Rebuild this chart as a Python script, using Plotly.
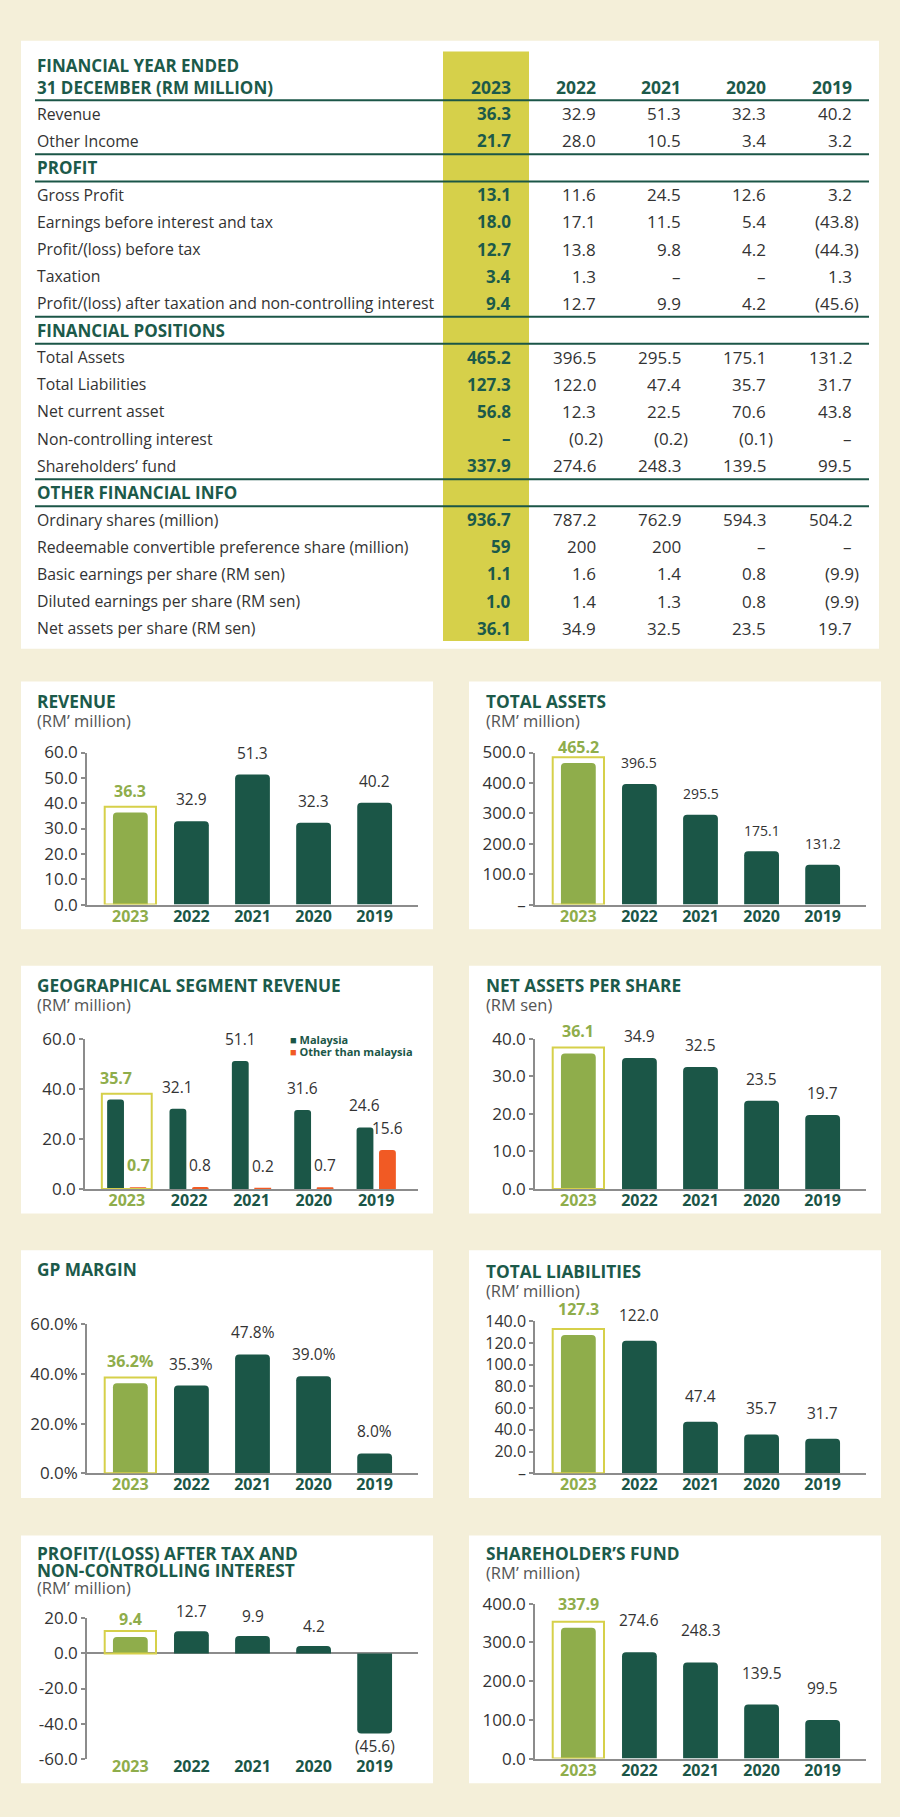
import plotly.graph_objects as go

# ---------------- data ----------------
years = ["2023", "2022", "2021", "2020", "2019"]

table_labels = [
    "Revenue", "Other Income", "PROFIT", "Gross Profit",
    "Earnings before interest and tax", "Profit/(loss) before tax", "Taxation",
    "Profit/(loss) after taxation and non-controlling interest",
    "FINANCIAL POSITIONS", "Total Assets", "Total Liabilities", "Net current asset",
    "Non-controlling interest", "Shareholders’ fund", "OTHER FINANCIAL INFO",
    "Ordinary shares (million)", "Redeemable convertible preference share (million)",
    "Basic earnings per share (RM sen)", "Diluted earnings per share (RM sen)",
    "Net assets per share (RM sen)",
]
section_headers = ["PROFIT", "FINANCIAL POSITIONS", "OTHER FINANCIAL INFO"]

tbl_2023 = ["36.3", "21.7", "", "13.1", "18.0", "12.7", "3.4", "9.4", "", "465.2", "127.3", "56.8", "–", "337.9", "", "936.7", "59", "1.1", "1.0", "36.1"]
tbl_2022 = ["32.9", "28.0", "", "11.6", "17.1", "13.8", "1.3", "12.7", "", "396.5", "122.0", "12.3", "(0.2)", "274.6", "", "787.2", "200", "1.6", "1.4", "34.9"]
tbl_2021 = ["51.3", "10.5", "", "24.5", "11.5", "9.8", "–", "9.9", "", "295.5", "47.4", "22.5", "(0.2)", "248.3", "", "762.9", "200", "1.4", "1.3", "32.5"]
tbl_2020 = ["32.3", "3.4", "", "12.6", "5.4", "4.2", "–", "4.2", "", "175.1", "35.7", "70.6", "(0.1)", "139.5", "", "594.3", "–", "0.8", "0.8", "23.5"]
tbl_2019 = ["40.2", "3.2", "", "3.2", "(43.8)", "(44.3)", "1.3", "(45.6)", "", "131.2", "31.7", "43.8", "–", "99.5", "", "504.2", "–", "(9.9)", "(9.9)", "19.7"]

revenue = [36.3, 32.9, 51.3, 32.3, 40.2]
total_assets = [465.2, 396.5, 295.5, 175.1, 131.2]
geo_malaysia = [35.7, 32.1, 51.1, 31.6, 24.6]
geo_other = [0.7, 0.8, 0.2, 0.7, 15.6]
net_assets_per_share = [36.1, 34.9, 32.5, 23.5, 19.7]
gp_margin = [36.2, 35.3, 47.8, 39.0, 8.0]
total_liabilities = [127.3, 122.0, 47.4, 35.7, 31.7]
profit_after_tax = [9.4, 12.7, 9.9, 4.2, -45.6]
shareholders_fund = [337.9, 274.6, 248.3, 139.5, 99.5]

ticks_revenue = [0, 10, 20, 30, 40, 50, 60]
ticks_assets = [0, 100, 200, 300, 400, 500]
ticks_geo = [0, 20, 40, 60]
ticks_naps = [0, 10, 20, 30, 40]
ticks_gp = [0, 20, 40, 60]
ticks_liab = [0, 20, 40, 60, 80, 100, 120, 140]
ticks_profit = [-60, -40, -20, 0, 20]
ticks_sh = [0, 100, 200, 300, 400]

# ---------------- style ----------------
W, H = 900, 1817
BG = "#f4efd9"
DARK = "#1b5647"
LIGHT = "#8fad4b"
YEL = "#d6d04a"
TXT = "#333333"
AXIS = "#8c8c8c"
ORANGE = "#f15a24"
TITLE = "#1c5a4a"
SUBC = "#555555"
FONT = "Open Sans"


def px_x(x):
    return x / W


def px_y(y):
    return 1 - y / H


fig = go.Figure()
annotations = []
shapes = []
layout_axes = {}

# ---------------- table ----------------
shapes.append(dict(type="rect", xref="paper", yref="paper", x0=px_x(21), x1=px_x(879),
                   y0=px_y(645), y1=px_y(29), fillcolor="white", line_width=0, layer="below"))
shapes.append(dict(type="rect", xref="paper", yref="paper", x0=px_x(443), x1=px_x(529),
                   y0=px_y(637), y1=px_y(40), fillcolor=YEL, line_width=0, layer="below"))

TL, TR = 35, 869
col_right = [513, 598, 683, 768, 854]
row0, pitch = 103, 27.42


def hline(y):
    shapes.append(dict(type="line", xref="paper", yref="paper", x0=px_x(TL), x1=px_x(TR),
                       y0=px_y(y), y1=px_y(y), line=dict(color=DARK, width=2)))


annotations.append(dict(x=px_x(TL), y=px_y(65), xref="paper", yref="paper", xanchor="left",
                        yanchor="middle", align="left", showarrow=False,
                        text="<b>FINANCIAL YEAR ENDED</b><br><b>31 DECEMBER (RM MILLION)</b>",
                        font=dict(size=17, color=TITLE)))
for yr, cx in zip(years, col_right):
    annotations.append(dict(x=px_x(cx), y=px_y(76), xref="paper", yref="paper", xanchor="right",
                            yanchor="middle", showarrow=False, text=f"<b>{yr}</b>",
                            font=dict(size=17.5, color=TITLE)))
hline(row0 - pitch / 2)

cols = [tbl_2023, tbl_2022, tbl_2021, tbl_2020, tbl_2019]
for i, lab in enumerate(table_labels):
    yc = row0 + i * pitch
    if lab in section_headers:
        annotations.append(dict(x=px_x(TL), y=px_y(yc), xref="paper", yref="paper", xanchor="left",
                                yanchor="middle", showarrow=False, text=f"<b>{lab}</b>",
                                font=dict(size=17, color=TITLE)))
        hline(yc - pitch / 2)
        hline(yc + pitch / 2)
        continue
    annotations.append(dict(x=px_x(TL), y=px_y(yc), xref="paper", yref="paper", xanchor="left",
                            yanchor="middle", showarrow=False, text=lab,
                            font=dict(size=15.8, color=TXT)))
    for j, col in enumerate(cols):
        s = col[i]
        if not s:
            continue
        xr = col_right[j] + (7 if s.endswith(")") else 0)
        txt = f"<b>{s}</b>" if j == 0 else s
        annotations.append(dict(x=px_x(xr), y=px_y(yc), xref="paper", yref="paper", xanchor="right",
                                yanchor="middle", showarrow=False, text=txt,
                                font=dict(size=17, color=TITLE if j == 0 else TXT)))

# ---------------- charts ----------------
PANEL_COLS = [21, 469]
PANEL_ROWS = [678, 966, 1254, 1543]
PANEL_W, PANEL_H = 412, 251
idx = list(range(len(years)))


def fmt(v, pct):
    if pct:
        return f"{v:.1f}%"
    if v < 0:
        return f"({abs(v):.1f})"
    return f"{v:.1f}"


def add_chart(n, col, row, title_lines, sub, tickvals, series, plot_top,
              zero_dash=False, pct=False, label_shift=22, hl_shift=None, xl_off=66, xr_off=397,
              xpad=0.71, box_half=0.42, title_dy=20, zero_axis=False, label_size=15.5,
              tick_size=17, neg_shift=-13):
    PL, PT = PANEL_COLS[col], PANEL_ROWS[row]
    shapes.append(dict(type="rect", xref="paper", yref="paper", x0=px_x(PL), x1=px_x(PL + PANEL_W),
                       y0=px_y(PT + PANEL_H), y1=px_y(PT), fillcolor="white", line_width=0,
                       layer="below"))
    tx = PL + 14 if col == 0 else PL + 15
    ty = PT + title_dy
    lines = [f"<span style='font-size:17.3px;color:{TITLE}'><b>{tl}</b></span>" for tl in title_lines]
    if sub:
        lines.append(f"<span style='font-size:16.5px;color:{SUBC}'>{sub}</span>")
    base = 14.6 if len(title_lines) == 1 else 13
    annotations.append(dict(x=px_x(tx), y=px_y(ty - 13), xref="paper", yref="paper",
                            xanchor="left", yanchor="top", align="left", showarrow=False,
                            text="<br>".join(lines), font=dict(size=base, color=TITLE)))
    xname = "x" if n == 1 else f"x{n}"
    yname = "y" if n == 1 else f"y{n}"
    x0, x1 = PL + xl_off, PL + xr_off
    ytop, ybot = PT + plot_top, PT + 226
    tmin, tmax = min(tickvals), max(tickvals)
    ticktext = []
    for t in tickvals:
        if t == 0 and zero_dash:
            ticktext.append("–")
        else:
            ticktext.append(f"{t:.1f}%" if pct else f"{t:.1f}")
    layout_axes["xaxis" if n == 1 else f"xaxis{n}"] = dict(
        domain=[px_x(x0), px_x(x1)], anchor=yname, range=[-xpad, len(years) - 1 + xpad],
        showgrid=False, zeroline=False, showline=not zero_axis, linecolor=AXIS, linewidth=1.5,
        ticks="", tickvals=idx, ticklabelstandoff=-4,
        ticktext=[(f"<b><span style='color:{LIGHT}'>{y}</span></b>" if i == 0 else f"<b>{y}</b>")
                  for i, y in enumerate(years)],
        tickfont=dict(size=16, color=DARK), fixedrange=True)
    layout_axes["yaxis" if n == 1 else f"yaxis{n}"] = dict(
        domain=[px_y(ybot), px_y(ytop)], anchor=xname, range=[tmin, tmax],
        showgrid=False, zeroline=zero_axis, zerolinecolor=AXIS, zerolinewidth=1.5,
        showline=True, linecolor=AXIS, linewidth=1.5, ticks="outside", ticklen=4,
        tickcolor=AXIS, tickwidth=1.5, tickvals=tickvals, ticktext=ticktext,
        tickfont=dict(size=tick_size, color=TXT), fixedrange=True)

    pad = 6 * (tmax - tmin) / (ybot - ytop)
    box_top = max(s["values"][0] for s in series) + pad
    shapes.append(dict(type="rect", xref=xname, yref=yname, x0=-box_half, x1=box_half,
                       y0=0, y1=box_top, line=dict(color=YEL, width=2), fillcolor="rgba(0,0,0,0)"))

    for s in series:
        vals = s["values"]
        colors = s.get("colors") or [LIGHT] + [DARK] * (len(vals) - 1)
        fig.add_trace(go.Bar(x=idx, y=vals, xaxis=xname, yaxis=yname, width=s["width"],
                             offset=s.get("offset"), marker=dict(color=colors, cornerradius=s.get("radius", 4),
                                                                 line_width=0),
                             showlegend=False, hoverinfo="skip"))
        for i, v in enumerate(vals):
            xc = i + s.get("label_dx", 0)
            hl = i == 0
            shift = label_shift if v >= 0 else neg_shift
            if hl and hl_shift is not None:
                shift = hl_shift
            annotations.append(dict(
                x=xc, y=v, xref=xname, yref=yname, xanchor="center", yanchor="middle",
                yshift=shift, showarrow=False,
                text=(f"<b>{fmt(v, pct)}</b>" if hl else fmt(v, pct)),
                font=dict(size=16 if hl else label_size, color=LIGHT if hl else TXT)))


BW = 0.57
add_chart(1, 0, 0, ["REVENUE"], "(RM’ million)", ticks_revenue,
          [dict(values=revenue, width=BW)], plot_top=72)
add_chart(2, 1, 0, ["TOTAL ASSETS"], "(RM’ million)", ticks_assets,
          [dict(values=total_assets, width=BW)], plot_top=72, zero_dash=True, label_shift=21,
          hl_shift=16, label_size=14)
add_chart(3, 0, 1, ["GEOGRAPHICAL SEGMENT REVENUE"], "(RM’ million)", ticks_geo,
          [dict(values=geo_malaysia, width=0.27, offset=-0.315, colors=[DARK] * 5, radius=3,
                label_dx=-0.18),
           dict(values=geo_other, width=0.27, offset=0.045, colors=[ORANGE] * 5, radius=3,
                label_dx=0.18)],
          plot_top=74, xl_off=64, xpad=0.67, box_half=0.40, title_dy=19)
add_chart(4, 1, 1, ["NET ASSETS PER SHARE"], "(RM sen)", ticks_naps,
          [dict(values=net_assets_per_share, width=BW)], plot_top=74, title_dy=19)
add_chart(5, 0, 2, ["GP MARGIN"], None, ticks_gp,
          [dict(values=gp_margin, width=BW)], plot_top=75, pct=True, title_dy=19)
add_chart(6, 1, 2, ["TOTAL LIABILITIES"], "(RM’ million)", ticks_liab,
          [dict(values=total_liabilities, width=BW)], plot_top=72, zero_dash=True,
          label_shift=26, title_dy=21, tick_size=16)
add_chart(7, 0, 3, ["PROFIT/(LOSS) AFTER TAX AND", "NON-CONTROLLING INTEREST"], "(RM’ million)",
          ticks_profit, [dict(values=profit_after_tax, width=BW)], plot_top=84,
          label_shift=20, hl_shift=18, title_dy=18, zero_axis=True)
add_chart(8, 1, 3, ["SHAREHOLDER’S FUND"], "(RM’ million)", ticks_sh,
          [dict(values=shareholders_fund, width=BW)], plot_top=69, label_shift=32, hl_shift=24,
          title_dy=18)

# geo legend (one two-line block, ~12px line pitch)
annotations.append(dict(x=px_x(288), y=px_y(1047), xref="paper", yref="paper", xanchor="left",
                        yanchor="middle", align="left", showarrow=False,
                        text=(f"<span style='font-size:11px'><span style='color:{DARK}'>■</span> <b>Malaysia</b></span><br>"
                              f"<span style='font-size:11px'><span style='color:{ORANGE}'>■</span> <b>Other than malaysia</b></span>"),
                        font=dict(size=9.4, color=DARK)))

fig.update_layout(
    width=W, height=H, margin=dict(l=0, r=0, t=0, b=0),
    paper_bgcolor=BG, plot_bgcolor="rgba(0,0,0,0)",
    font=dict(family=FONT, color=TXT),
    barmode="overlay", showlegend=False,
    annotations=annotations, shapes=shapes, **layout_axes,
)

fig.write_html("out.html", config={"displayModeBar": False})
